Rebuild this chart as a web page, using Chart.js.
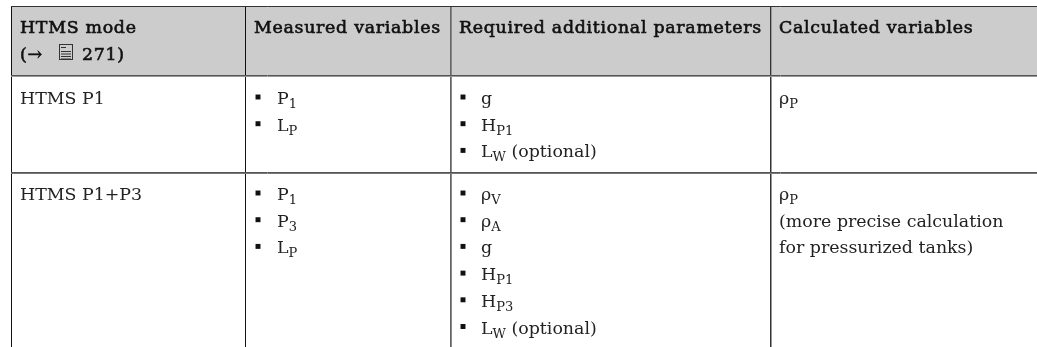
<!DOCTYPE html>
<html>
<head>
<meta charset="utf-8">
<script src="https://cdn.jsdelivr.net/npm/chart.js@4"></script>
<style>
body { margin: 0; background: #fff; }
canvas { display: block; }
</style>
</head>
<body>
<canvas id="chart" width="1037" height="347"></canvas>
<script>
// table content, "_" starts a subscript run, "~" ends it
var headers = ["HTMS mode", "Measured variables", "Required additional parameters", "Calculated variables"];
var headerNote = ["(\u2192", "271)"];
var rowNames = ["HTMS P1", "HTMS P1+P3"];
var measured = [["P_1", "L_P"], ["P_1", "P_3", "L_P"]];
var required = [["g", "H_P1", "L_W~ (optional)"], ["\u03c1_V", "\u03c1_A", "g", "H_P1", "H_P3", "L_W~ (optional)"]];
var calculated = [["\u03c1_P"], ["\u03c1_P", "(more precise calculation", "for pressurized tanks)"]];

// grid lines of the table
var columnLines = [11, 245, 450, 451, 770, 771];
var columnColors = ["#111111", "#111111", "#666666", "#888888", "#333333", "#999999"];
var rowLines = [6, 75, 76, 172, 173];
var rowColors = ["#333333", "#555555", "#999999", "#555555", "#777777"];

var headerTop = 6;
var headerBottom = 75;
var rowBaselines = [104, 200];
var lineStep = 26.7;
var headerBaselines = [33, 60];
var nameX = 20;
var headerX = [20, 254, 459, 779];
var bulletX = [258, 463];
var itemX = [277, 481];
var calcX = 779;

var bodyFont = "17.4px 'DejaVu Serif'";
var subFont = "13px 'DejaVu Serif'";
var headFont = "17.4px 'DejaVu Serif'";

function bulletPoints() {
    var pts = [];
    [measured, required].forEach(function(col, c) {
        col.forEach(function(items, r) {
            items.forEach(function(item, i) {
                pts.push({ x: bulletX[c], y: rowBaselines[r] + i * lineStep - 7 });
            });
        });
    });
    return pts;
}

function drawRich(ctx, s, x, y) {
    var parts = s.split("_");
    ctx.font = bodyFont;
    ctx.fillText(parts[0], x, y);
    x += ctx.measureText(parts[0]).width;
    if (parts[1]) {
        var sub = parts[1].split("~");
        ctx.font = subFont;
        ctx.fillText(sub[0], x, y + 4);
        x += ctx.measureText(sub[0]).width;
        if (sub[1]) {
            ctx.font = bodyFont;
            ctx.fillText(sub[1], x, y);
        }
    }
}

function drawHead(ctx, s, x, y) {
    ctx.fillText(s, x, y);
    ctx.strokeText(s, x, y);
}

function drawIcon(ctx, x, y) {
    ctx.strokeStyle = "#333";
    ctx.lineWidth = 1;
    ctx.strokeRect(x + 0.5, y + 0.5, 13, 15);
    ctx.beginPath();
    for (var i = 7; i < 15; i += 2.5) {
        ctx.moveTo(x + 2, y + i + 0.5);
        ctx.lineTo(x + 12, y + i + 0.5);
    }
    ctx.moveTo(x + 2, y + 3.5);
    ctx.lineTo(x + 7, y + 3.5);
    ctx.stroke();
}

var tableText = {
    id: "tableText",
    afterDatasetsDraw: function(chart) {
        var ctx = chart.ctx;
        var sx = chart.scales.x;
        var sy = chart.scales.y;
        ctx.save();
        ctx.textBaseline = "alphabetic";
        ctx.fillStyle = "#111";
        ctx.strokeStyle = "#111";
        ctx.lineWidth = 0.6;
        ctx.font = headFont;
        ctx.letterSpacing = "0.7px";
        headers.forEach(function(h, i) {
            drawHead(ctx, h, sx.getPixelForValue(headerX[i]), sy.getPixelForValue(headerBaselines[0]));
        });
        drawHead(ctx, headerNote[0], sx.getPixelForValue(20), sy.getPixelForValue(headerBaselines[1]));
        drawHead(ctx, headerNote[1], sx.getPixelForValue(82), sy.getPixelForValue(headerBaselines[1]));
        ctx.letterSpacing = "0px";
        drawIcon(ctx, sx.getPixelForValue(59), sy.getPixelForValue(44));

        ctx.fillStyle = "#222";
        rowNames.forEach(function(name, r) {
            var y0 = rowBaselines[r];
            ctx.font = bodyFont;
            ctx.fillText(name, sx.getPixelForValue(nameX), sy.getPixelForValue(y0));
            measured[r].forEach(function(s, i) {
                drawRich(ctx, s, sx.getPixelForValue(itemX[0]), sy.getPixelForValue(y0 + i * lineStep));
            });
            required[r].forEach(function(s, i) {
                drawRich(ctx, s, sx.getPixelForValue(itemX[1]), sy.getPixelForValue(y0 + i * lineStep));
            });
            calculated[r].forEach(function(s, i) {
                drawRich(ctx, s, sx.getPixelForValue(calcX), sy.getPixelForValue(y0 + i * lineStep));
            });
        });
        ctx.restore();
    }
};

var ctx = document.getElementById("chart").getContext("2d");
var myChart = new Chart(ctx, {
    type: "scatter",
    plugins: [tableText],
    data: {
        datasets: [{
                label: "header",
                data: [{ x: 11, y: headerTop }, { x: 1037, y: headerTop }],
                showLine: true,
                fill: { value: headerBottom },
                backgroundColor: "#cccccc",
                borderWidth: 0,
                pointRadius: 0,
            },
            {
                label: "bullets",
                data: bulletPoints(),
                pointStyle: "rect",
                pointRadius: 3.5,
                backgroundColor: "#111111",
                borderWidth: 0,
            },
        ],
    },
    options: {
        responsive: false,
        animation: false,
        layout: { autoPadding: false, padding: { left: 11, top: 6 } },
        scales: {
            x: {
                type: "linear",
                min: 11,
                max: 1037,
                border: { display: false },
                afterBuildTicks: function(axis) {
                    axis.ticks = columnLines.map(function(v) { return { value: v }; });
                },
                ticks: { display: false },
                grid: {
                    z: 1,
                    drawTicks: false,
                    color: function(c) { return columnColors[c.index]; },
                },
            },
            y: {
                type: "linear",
                reverse: true,
                min: 6,
                max: 347,
                border: { display: false },
                afterBuildTicks: function(axis) {
                    axis.ticks = rowLines.map(function(v) { return { value: v }; });
                },
                ticks: { display: false },
                grid: {
                    z: 1,
                    drawTicks: false,
                    color: function(c) { return rowColors[c.index]; },
                },
            },
        },
        plugins: {
            legend: { display: false },
            tooltip: { enabled: false },
        },
    },
});
</script>
</body>
</html>
